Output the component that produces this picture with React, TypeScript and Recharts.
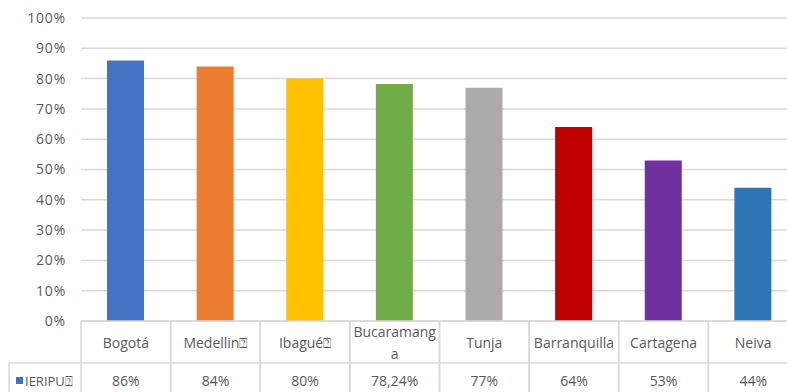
import { BarChart, Bar, XAxis, YAxis, CartesianGrid, Cell } from 'recharts';

// ciudades y valores del indicador
const categories = ['Bogotá', 'Medellin⍰', 'Ibagué⍰', 'Bucaramang\na', 'Tunja', 'Barranquilla', 'Cartagena', 'Neiva'];
const values = [0.86, 0.84, 0.8, 0.7824, 0.77, 0.64, 0.53, 0.44];
const valueLabels = ['86%', '84%', '80%', '78,24%', '77%', '64%', '53%', '44%'];
const colors = ['#4472C4', '#ED7D31', '#FFC000', '#70AD47', '#AEAAAA', '#C00000', '#7030A0', '#2E75B6'];
const yTicks = [0, 0.1, 0.2, 0.3, 0.4, 0.5, 0.6, 0.7, 0.8, 0.9, 1];
const seriesName = 'IERIPU⍰';

const data = categories.map((city, i) => ({ city, value: values[i], label: valueLabels[i] }));

const FONT = '"Open Sans", "DejaVu Sans", sans-serif';
const TEXT = '#595959';
const LINE = '#D9D9D9';
const CHART_W = 810;
const CHART_H = 400;
const LEFT = 81;
const RIGHT = 12;
const BAND = (CHART_W - LEFT - RIGHT) / categories.length;
const ROW1 = 42;

// each x tick draws one column of the data table below the plot
function TableTick(props: any) {
  const { x, y, payload, index } = props;
  const lines = String(payload.value).split('\n');
  const left = x - BAND / 2;
  const right = x + BAND / 2;
  const lh = 22;
  const startY = y + ROW1 / 2 + 1 - ((lines.length - 1) * lh) / 2;
  return (
    <g>
      <line x1={left} y1={y} x2={right} y2={y} stroke={LINE} strokeWidth={1.5} />
      <line x1={left} y1={y + ROW1} x2={right} y2={y + ROW1} stroke={LINE} strokeWidth={1.5} />
      <line x1={left} y1={y} x2={left} y2={y + 80} stroke={LINE} strokeWidth={1.5} />
      <line x1={right} y1={y} x2={right} y2={y + 80} stroke={LINE} strokeWidth={1.5} />
      {lines.map((l, i) => (
        <text key={i} x={x} y={startY + i * lh} dy="0.35em" textAnchor="middle" fill={TEXT} fontSize={14} fontFamily={FONT}>
          {l}
        </text>
      ))}
      <text x={x} y={y + ROW1 + 18} dy="0.35em" textAnchor="middle" fill={TEXT} fontSize={14} fontFamily={FONT}>
        {data[index]?.label}
      </text>
      {index === 0 && (
        <g>
          <line x1={9} y1={y + ROW1} x2={left} y2={y + ROW1} stroke={LINE} strokeWidth={1.5} />
          <line x1={9} y1={y + ROW1} x2={9} y2={y + 80} stroke={LINE} strokeWidth={1.5} />
          <rect x={16} y={y + ROW1 + 14} width={7} height={7} fill={colors[0]} />
          <text x={25} y={y + ROW1 + 18} dy="0.35em" fill={TEXT} fontSize={13} fontFamily={FONT}>
            {seriesName}
          </text>
        </g>
      )}
    </g>
  );
}

export default function App() {
  return (
    <div style={{ position: 'fixed', top: 0, left: 0, width: 787, height: 392, overflow: 'hidden', background: '#fff' }}>
      <BarChart width={CHART_W} height={CHART_H} data={data} margin={{ top: 18, right: RIGHT, left: 0, bottom: 0 }}>
        <CartesianGrid vertical={false} stroke={LINE} strokeWidth={1.5} />
        <XAxis
          dataKey="city"
          axisLine={false}
          tickLine={false}
          tickSize={0}
          tickMargin={0}
          height={CHART_H - 18 - 303}
          interval={0}
          tick={<TableTick />}
        />
        <YAxis
          width={LEFT}
          domain={[0, 1]}
          ticks={yTicks}
          axisLine={false}
          tickLine={false}
          tickMargin={9}
          tickFormatter={(v: number) => `${Math.round(v * 100)}%`}
          tick={{ fill: TEXT, fontSize: 14, fontFamily: FONT, letterSpacing: 0.8 }}
        />
        <Bar dataKey="value" barSize={37} isAnimationActive={false}>
          {data.map((d, i) => (
            <Cell key={d.city} fill={colors[i]} />
          ))}
        </Bar>
      </BarChart>
    </div>
  );
}
